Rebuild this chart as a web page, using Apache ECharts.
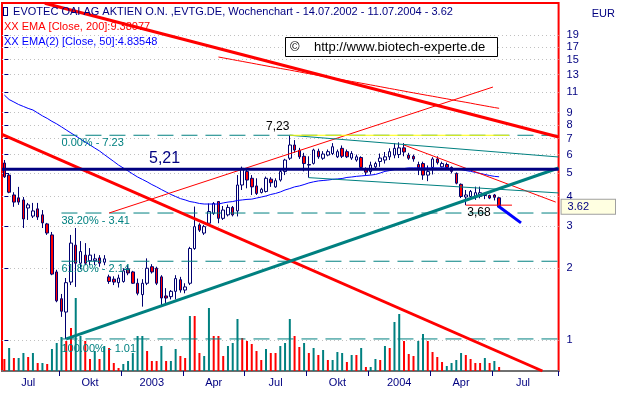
<!DOCTYPE html>
<html><head><meta charset="utf-8">
<script src="https://cdn.jsdelivr.net/npm/echarts@6/dist/echarts.min.js"></script>
<style>html,body{margin:0;padding:0;background:#fff}#c{width:619px;height:394px}</style>
</head><body><div id="c"></div>
<script>
// ---------- data ----------
const firstWeek = '2002-07-14';
const lastWeek = '2004-07-11';
const weekSlots = 117; // weekly axis slots (105 traded weeks + empty space to the right)
const opens = [5.53,4.92,4.06,3.95,3.87,3.58,3.31,3.55,3.35,3.07,
 2.76,1.93,1.49,1.31,1.75,2.50,2.10,2.27,2.15,2.15,
 2.21,2.12,1.84,1.80,1.74,1.76,1.99,1.93,1.73,1.55,
 1.73,2.03,2.00,1.84,1.53,1.52,1.60,1.79,1.62,1.73,
 2.42,3.04,2.81,3.09,3.40,3.81,3.24,3.35,3.60,3.48,
 4.47,5.09,4.77,4.43,4.16,4.20,4.73,4.39,4.69,5.09,
 5.79,6.58,6.25,5.90,5.45,5.51,6.20,5.79,5.97,6.06,
 5.87,6.37,6.17,5.80,5.69,5.83,5.22,5.09,5.33,5.61,
 5.69,5.87,5.97,6.00,6.40,5.97,5.90,5.45,5.50,4.92,
 5.30,5.75,5.33,5.45,5.30,5.00,4.50,3.98,4.00,4.00,
 4.00,4.10,4.04,4.06,3.95];
const highs = [5.69,5.02,4.17,4.39,3.98,3.76,3.76,3.76,3.51,3.10,
 2.84,1.97,1.56,1.82,2.76,2.95,2.60,2.55,2.43,2.30,
 2.27,2.27,1.88,1.85,1.88,2.00,2.06,1.95,1.81,1.80,
 2.20,2.08,2.03,1.87,1.65,1.62,1.87,1.84,1.73,2.46,
 3.63,3.09,3.04,3.74,3.79,3.83,3.65,3.70,3.65,4.92,
 5.34,5.25,4.92,4.77,4.35,4.85,4.82,4.77,5.17,5.76,
 7.23,6.90,6.40,6.10,5.90,6.35,6.35,6.20,6.30,6.70,
 6.30,6.55,6.30,6.20,6.00,5.90,5.30,5.60,5.60,6.06,
 6.15,6.37,6.70,6.75,6.70,6.10,6.00,5.60,5.60,5.40,
 5.85,5.90,5.60,5.55,5.35,5.05,4.54,4.26,4.26,4.40,
 4.40,4.15,4.07,4.10,3.97];
const lows = [4.79,4.13,3.62,3.69,2.95,3.19,3.25,3.19,2.95,2.76,
 1.87,1.44,1.25,1.01,1.70,1.67,1.98,2.06,2.06,2.06,
 2.03,2.06,1.72,1.70,1.66,1.74,1.87,1.72,1.54,1.38,
 1.70,1.90,1.70,1.38,1.43,1.48,1.48,1.58,1.57,1.70,
 2.39,2.84,2.76,3.04,3.35,3.09,3.19,3.30,3.30,3.30,
 4.26,4.33,4.06,4.06,4.12,4.16,4.39,4.35,4.62,4.92,
 5.69,6.10,5.75,5.10,4.80,5.45,5.76,5.70,5.90,5.97,
 5.80,5.80,5.80,5.70,5.60,5.20,4.92,4.95,5.20,5.33,
 5.50,5.69,5.79,5.80,5.90,5.70,5.60,4.92,4.70,4.64,
 4.95,5.45,5.30,5.20,5.00,4.50,3.94,3.68,3.97,3.87,
 3.93,3.90,3.90,3.85,3.60];
const closes = [4.84,4.17,3.79,3.79,3.22,3.69,3.48,3.28,3.10,2.81,
 1.89,1.46,1.32,1.74,2.55,2.10,2.35,2.10,2.27,2.19,
 2.10,2.19,1.76,1.75,1.82,1.95,1.91,1.73,1.57,1.73,
 2.00,1.93,1.73,1.50,1.50,1.60,1.81,1.62,1.67,2.42,
 2.99,2.89,2.99,3.46,3.74,3.24,3.51,3.60,3.35,4.47,
 5.25,4.69,4.39,4.12,4.29,4.77,4.57,4.66,5.09,5.69,
 6.58,6.27,5.87,5.50,5.42,6.27,5.87,6.03,6.17,6.47,
 6.17,5.90,5.87,6.06,5.87,5.30,5.06,5.42,5.50,5.80,
 5.87,6.17,6.37,6.40,6.15,5.79,5.75,5.28,4.92,5.09,
 5.75,5.55,5.50,5.30,5.10,4.55,4.00,4.06,4.20,4.15,
 4.15,4.04,3.94,3.97,3.62];
// weekly volume (relative units) and bar colour flag (1 = teal, 0 = red)
const volumes = [120,230,130,130,180,140,180,80,80,70,
 220,280,340,300,430,730,350,300,120,200,
 120,250,230,80,30,70,100,180,350,350,
 200,100,100,250,100,100,220,150,130,550,
 550,180,150,630,350,350,150,250,280,520,
 330,300,270,200,110,220,180,180,250,280,
 520,350,240,280,180,230,160,210,110,110,
 190,180,90,160,160,230,40,40,120,110,
 250,230,490,570,300,170,150,300,370,300,
 190,140,90,50,80,110,180,160,120,80,
 80,130,80,100,40];
const volumeTeal = [0,1,0,1,1,0,1,0,1,0,
 1,1,1,0,0,1,1,0,0,1,
 0,1,0,0,0,1,1,1,1,1,
 0,0,0,1,0,1,1,0,0,1,
 0,0,1,1,0,0,0,1,1,1,
 0,0,0,0,0,1,0,0,1,1,
 1,0,0,1,0,1,0,1,0,1,
 1,1,0,1,0,1,0,1,1,0,
 1,0,1,1,0,0,0,1,1,0,
 0,0,0,1,1,1,1,0,0,0,
 0,1,0,1,0];
const ema50 = [10.66,10.21,9.97,9.73,9.55,9.37,9.23,8.97,8.72,8.51,
 8.27,8.07,7.84,7.61,7.39,7.18,6.97,6.77,6.58,6.39,
 6.21,6.00,5.80,5.61,5.42,5.27,5.12,4.97,4.83,4.72,
 4.61,4.49,4.39,4.28,4.18,4.08,4.00,3.92,3.87,3.81,
 3.78,3.74,3.72,3.72,3.72,3.72,3.76,3.79,3.81,3.85,
 3.87,3.89,3.90,3.94,3.98,4.02,4.08,4.12,4.18,4.26,
 4.32,4.39,4.43,4.49,4.56,4.61,4.65,4.67,4.69,4.72,
 4.74,4.76,4.81,4.83,4.86,4.88,4.90,4.92,4.95,5.02,
 5.10,5.14,5.19,5.22,5.24,5.27,5.27,5.27,5.27,5.27,
 5.27,5.27,5.27,5.27,5.24,5.22,5.19,5.14,5.10,5.05,
 5.00,4.95,4.90,4.86,4.84];
// EMA 200: off the top of the chart until mid 2003
const ema200Start = 45;
const ema200 = [15.40,15.27,15.14,15.01,14.88,14.76,14.63,14.51,14.38,14.26,
 14.14,14.02,13.91,13.79,13.68,13.57,13.45,13.34,13.22,13.11,
 13.00,12.89,12.78,12.67,12.57,12.46,12.36,12.26,12.16,12.06,
 11.96,11.86,11.76,11.66,11.56,11.46,11.36,11.27,11.17,11.08,
 10.98,10.89,10.80,10.71,10.62,10.54,10.45,10.36,10.28,10.19,
 10.10,10.02,9.94,9.86,9.77,9.69,9.61,9.53,9.45,9.38];
const ema200Last = 9.38077, ema50Last = 4.83548;
const priceTicks = [1,2,3,4,5,6,7,8,9,11,13,15,17,19];
const lastClose = 3.62;
const supportLevel = 5.21;
const fibLevels = [7.23, 3.41, 2.14, 1.01];
const fibNames = ['0.00%', '38.20%', '61.80%', '100.00%'];
const peakValue = 7.23, supportLow = 3.68;
// trend lines: [[week index, price], [week index, price]]
const redUpperLine = [[8.5, 25.9], [116.5, 7.11]];
const redLowerLine = [[-0.5, 7.30], [113.1, 0.741]];
const redChannelUp = [[22.0, 3.41], [102.7, 11.52]];
const redDownShort = [[84.0, 6.58], [115.9, 3.79]];
const tealTrendUp = [[13.0, 1.01], [116.5, 5.27]];
const tealUpperFan = [[60.0, 7.23], [116.5, 5.86]];
const tealLowerFan = [[64.0, 4.80], [116.5, 4.14]];
const peakLine = [[60.0, 7.23], [106.1, 7.23]];
const lowLine = [[97.0, 3.68], [106.7, 3.68]];
const arrowLine = [[103.8, 3.65], [108.6, 3.10]];

// ---------- build ----------
const FONT = 'Liberation Sans, Arial, sans-serif';
const NAVY = '#000080', TEAL = '#008080', RED = '#ff0000';
const DAY = 86400000;
const t0 = Date.UTC(2002, 6, 14);
const categories = [];
for (let i = 0; i < weekSlots; i++) categories.push(new Date(t0 + i * 7 * DAY).toISOString().slice(0, 10));
const qNames = {3: 'Apr', 6: 'Jul', 9: 'Okt'};
function qInfo(idx) {
  const d = new Date(categories[idx] + 'T00:00:00Z');
  const qm = Math.floor(d.getUTCMonth() / 3) * 3;
  const diff = Math.round((d.getTime() - Date.UTC(d.getUTCFullYear(), qm, 1)) / DAY);
  return {diff, name: qm === 0 ? String(d.getUTCFullYear()) : qNames[qm]};
}
const yMin = 0.741, yMax = 25.95;

function seg(points, color, width, z, type) {
  return {type: 'line', xAxisIndex: 1, yAxisIndex: 0, data: points, symbol: 'none', silent: true,
    lineStyle: {color, width, type: type || 'solid'}, z: z || 5};
}

const series = [
  {type: 'bar', xAxisIndex: 0, yAxisIndex: 1, barWidth: 2, silent: true, z: 2,
   data: volumes.map((v, i) => ({value: v, itemStyle: {color: volumeTeal[i] ? TEAL : RED}}))},
  {type: 'candlestick', xAxisIndex: 0, yAxisIndex: 0, barWidth: 3, z: 3, silent: true,
   data: opens.map((o, i) => [o, closes[i], lows[i], highs[i]]),
   itemStyle: {color: '#ffffff', color0: RED, borderColor: '#000070', borderColor0: '#000070', borderWidth: 1}},
  {type: 'line', xAxisIndex: 0, yAxisIndex: 0, data: ema50, symbol: 'none', silent: true, z: 4,
   lineStyle: {color: '#0000ff', width: 1}},
  {type: 'line', xAxisIndex: 0, yAxisIndex: 0, symbol: 'none', silent: true, z: 4,
   data: ema200.map((v, k) => [ema200Start + k, v]), lineStyle: {color: RED, width: 1}},
  seg(redUpperLine, RED, 3),
  seg(redLowerLine, RED, 3),
  seg(redChannelUp, RED, 1),
  seg(redDownShort, RED, 1),
  seg(tealTrendUp, TEAL, 3),
  seg(tealUpperFan, TEAL, 1),
  seg(tealLowerFan, TEAL, 1),
  seg([[-0.5, supportLevel], [weekSlots - 0.5, supportLevel]], NAVY, 3, 6)
];
fibLevels.forEach(l => series.push(seg([[12, l], [weekSlots - 0.5, l]], TEAL, 1, 4, [16, 8])));
series.push(seg(peakLine, '#ffff00', 1, 5));
series.push(seg(lowLine, RED, 1, 5));
series.push(seg(arrowLine, '#0000ff', 3, 6));

// text annotations anchored at data coordinates: [week, price, text, colour, size, dx, dy]
const notes = [
  [30.4, supportLevel, String(supportLevel).replace('.', ','), NAVY, 16, 0, -19],
  [55.0, peakValue, String(peakValue).replace('.', ','), '#000000', 12, 0, -15],
  [97.3, supportLow, String(supportLow).replace('.', ','), '#000000', 12, 0, 2],
  ...fibLevels.map((l, k) => [12, l, fibNames[k] + ' - ' + l.toFixed(2), TEAL, 11, 0, k === 3 ? 5 : 2])
];

const option = {
  animation: false,
  backgroundColor: '#ffffff',
  title: [
    {left: 4, top: 6, padding: 0, text: '{ic|}  EVOTEC OAI AG AKTIEN O.N. ,EVTG.DE, Wochenchart - ' + firstWeek.split('-').reverse().join('.') + ' - ' + lastWeek.split('-').reverse().join('.') + ' - ' + lastClose.toFixed(2),
     textStyle: {fontSize: 11, color: NAVY, fontFamily: FONT, fontWeight: 'normal',
       rich: {ic: {width: 3, height: 7, borderColor: NAVY, borderWidth: 1, backgroundColor: '#fff'}}}},
    {left: 4, top: 21, padding: 0, text: 'XX EMA [Close, 200]:' + ema200Last, textStyle: {fontSize: 11, color: RED, fontFamily: FONT, fontWeight: 'normal'}},
    {left: 4, top: 36, padding: 0, text: 'XX EMA(2) [Close, 50]:' + ema50Last, textStyle: {fontSize: 11, color: '#0000ff', fontFamily: FONT, fontWeight: 'normal'}},
    {left: 285, top: 37, padding: [4, 12, 3, 5], text: '\u00a9    http://www.biotech-experte.de', backgroundColor: '#ffffff', borderColor: '#000000', borderWidth: 1,
     textStyle: {fontSize: 13, color: '#000000', fontFamily: FONT, fontWeight: 'normal'}},
    {right: 4, top: 8, padding: 0, text: 'EUR', textStyle: {fontSize: 11, color: NAVY, fontFamily: FONT, fontWeight: 'normal'}}
  ],
  grid: {left: 2, right: 56, top: 3, bottom: 23, show: true, borderColor: RED, borderWidth: 2, backgroundColor: '#ffffff'},
  xAxis: [
    {type: 'category', data: categories, boundaryGap: true,
     axisLine: {show: true, lineStyle: {color: '#707070', width: 2}},
     axisTick: {show: true, length: 5, lineStyle: {color: NAVY},
       interval: (i) => i > 0 && i < weekSlots - 2 && qInfo(i).diff < 7},
     axisLabel: {color: NAVY, fontSize: 11, fontFamily: FONT, margin: 6,
       interval: (i) => { const d = qInfo(i).diff; return d >= 45 && d < 52; },
       formatter: (v, i) => qInfo(i).name},
     splitLine: {show: false}},
    {type: 'value', min: -0.5, max: weekSlots - 0.5, show: false}
  ],
  yAxis: [
    {type: 'log', min: yMin, max: yMax, position: 'right',
     axisLine: {show: false},
     axisTick: {show: true, customValues: priceTicks, length: 4, lineStyle: {color: NAVY}},
     axisLabel: {customValues: priceTicks, color: NAVY, fontSize: 11, fontFamily: FONT, margin: 8, hideOverlap: false},
     splitLine: {show: true, lineStyle: {color: '#c0c0c0', type: [1, 3]}}},
    {type: 'value', min: 0, max: 3680, show: false},
    {type: 'log', min: yMin, max: yMax, position: 'right',
     axisLine: {show: false}, axisTick: {show: false}, splitLine: {show: false},
     axisLabel: {customValues: [lastClose], formatter: (v) => lastClose.toFixed(2), color: NAVY, fontSize: 11, fontFamily: FONT, margin: 3,
       backgroundColor: '#ffffe1', borderColor: '#a0a0a0', borderWidth: 1, padding: [2, 26, 1, 6]}}
  ],
  series
};
const chart = echarts.init(document.getElementById('c'), null, {renderer: 'canvas'});
chart.setOption(option);
// place annotation texts through the chart's own axes
const graphics = notes.map(([x, y, text, color, size, dx, dy]) => {
  const p = chart.convertToPixel({xAxisIndex: 1, yAxisIndex: 0}, [x, y]);
  return {type: 'text', x: p[0] + dx, y: p[1] + dy, z: 100, silent: true,
    style: {text, fill: color, font: size + 'px ' + FONT, textAlign: 'left', textVerticalAlign: 'top'}};
});
chart.setOption({graphic: {elements: graphics}});
</script></body></html>
